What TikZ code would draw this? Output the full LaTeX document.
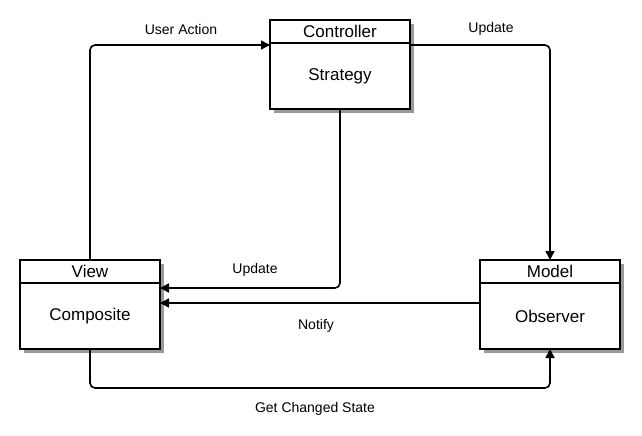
\documentclass[tikz,border=0pt]{standalone}
\usepackage{fontspec}
\setmainfont{Liberation Sans}
\usetikzlibrary{positioning,arrows.meta,backgrounds}
\begin{document}
\begin{tikzpicture}[x=1pt,y=-1pt,line width=1.6pt,
  boxhead/.style={draw,fill=white,minimum width=140pt,minimum height=23pt,inner sep=0pt,outer sep=0pt,
    font=\fontsize{17}{17}\selectfont},
  boxbody/.style={boxhead,minimum height=66pt},
  flow/.style={-{Triangle[length=9pt,width=9pt]},rounded corners=5pt},
  lbl/.style={font=\fontsize{14}{14}\selectfont}]
  \useasboundingbox (0,0) rectangle (642,436);
  % the three classes
  \foreach \n/\x/\y/\ttl/\txt in {ctrl/340/20/Controller/Strategy,
    view/90/260/View/Composite, model/550/260/Model/Observer}
  {
    \node[boxhead,anchor=north] (\n head) at (\x,\y) {\ttl};
    \node[boxbody,below=0pt of \n head] (\n) {\txt};
    \begin{scope}[on background layer]
      \fill[black!40] ([shift={(4,4)}]\n head.north west) rectangle ([shift={(4,4)}]\n.south east);
    \end{scope}
  }
  % messages
  \draw[flow] (viewhead.north) |- ([yshift=-2pt]ctrlhead.south west);
  \draw[flow] ([yshift=-2pt]ctrlhead.south east) -| (modelhead.north);
  \draw[flow] (ctrl.south) |- ([yshift=-5pt]view.north east);
  \draw[flow] ([yshift=-20pt]model.north west) -- ([yshift=-20pt]view.north east);
  \draw[flow] (view.south) -- ++(0,39) -| (model.south);
  \node[lbl] (useraction) at (181,29) {User Action};
  \node[lbl] (updmodel) at (491,29) {Update};
  \node[lbl] (updview) at (255,270) {Update};
  \node[lbl] (notify) at (316,326) {Notify};
  \node[lbl] (getstate) at (315,409) {Get Changed State};
\end{tikzpicture}
\end{document}
